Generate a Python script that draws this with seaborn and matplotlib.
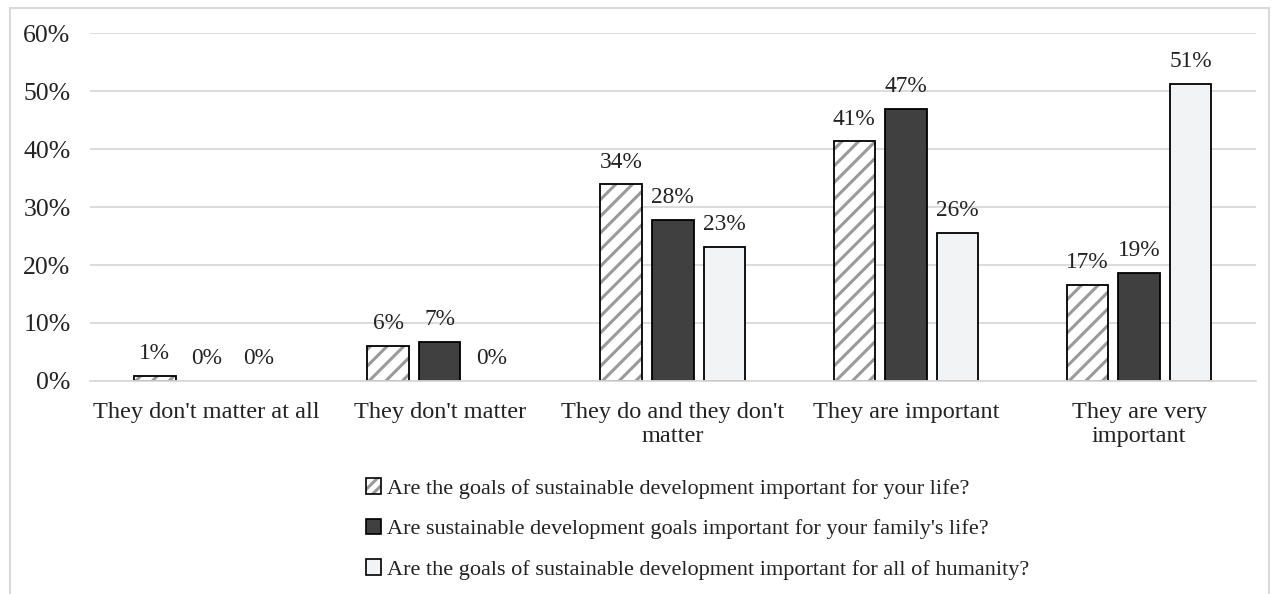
import matplotlib
matplotlib.use("Agg")
import matplotlib.pyplot as plt
import matplotlib.colors as mcolors
from matplotlib.patches import Rectangle, Patch
import seaborn as sns
import pandas as pd

categories = ["They don't matter at all", "They don't matter",
              "They do and they don't\nmatter", "They are important",
              "They are very\nimportant"]
series_names = ["Are the goals of sustainable development important for your life?",
                "Are sustainable development goals important for your family's life?",
                "Are the goals of sustainable development important for all of humanity?"]
life = [0.9, 6.1, 33.9, 41.3, 16.6]
family = [0.0, 6.7, 27.8, 46.9, 18.6]
humanity = [0.0, 0.0, 23.1, 25.5, 51.2]
yticks = [0, 10, 20, 30, 40, 50, 60]

sns.set_theme(style="white")
plt.rcParams['font.family'] = ['Liberation Serif', 'DejaVu Serif']
plt.rcParams['hatch.linewidth'] = 2.2

rows = []
for s, vals in zip(series_names, [life, family, humanity]):
    for c, v in zip(categories, vals):
        rows.append({"cat": c, "series": s, "val": v})
df = pd.DataFrame(rows)

fig = plt.figure(figsize=(12.8, 5.94), dpi=100)
ax = fig.add_axes([0.0703, 0.3586, 0.9107, 0.5858])

colors = ["#ffffff", "#404040", "#f2f3f5"]
sns.barplot(data=df, x="cat", y="val", hue="series", order=categories,
            hue_order=series_names, palette=colors, width=0.665, gap=0.2,
            edgecolor="black", linewidth=1.3, ax=ax, legend=False, errorbar=None)

txt = "#222222"
hatch_col = mcolors.to_rgba("#9a9a9a")
for i, cont in enumerate(ax.containers):
    for p in cont:
        if i == 0:
            p.set_hatch("//")
            p._hatch_color = hatch_col
        if p.get_height() == 0:
            p.set_visible(False)
    ax.bar_label(cont, labels=[f"{v.get_height():.0f}%" for v in cont],
                 padding=8.5, fontsize=16.8, color=txt)

ax.set_ylim(0, 60)
ax.set_xlim(-0.5, 4.5)
ax.set_yticks(yticks)
ax.set_yticklabels([f"{t}%" for t in yticks], fontsize=18.5, color=txt)
ax.tick_params(axis='y', pad=14, length=0)
ax.tick_params(axis='x', pad=15, length=0, labelsize=17.5, labelcolor=txt)
ax.set_xlabel("")
ax.set_ylabel("")
ax.yaxis.grid(True, color="#d9d9d9", linewidth=1.3)
ax.set_axisbelow(True)
for s in ["left", "right", "top"]:
    ax.spines[s].set_visible(False)
ax.spines["bottom"].set_color("#d9d9d9")
ax.spines["bottom"].set_linewidth(1.3)

h0 = Patch(facecolor="#ffffff", edgecolor="black", hatch="///", linewidth=1.2)
h0._hatch_color = hatch_col
handles = [h0,
           Patch(facecolor="#404040", edgecolor="black", linewidth=1.2),
           Patch(facecolor="#f2f3f5", edgecolor="black", linewidth=1.2)]
leg = fig.legend(handles, series_names, loc="upper center", bbox_to_anchor=(0.545, 0.21),
                 ncol=1, frameon=False, fontsize=16, handlelength=0.7, handleheight=0.7,
                 handletextpad=0.25, labelspacing=0.9, borderaxespad=0)
for t in leg.get_texts():
    t.set_color(txt)

fig.add_artist(Rectangle((10 / 1280, -0.01), 1269 / 1280 - 10 / 1280, 1 - 8 / 594 + 0.01,
                         transform=fig.transFigure, fill=False, edgecolor="#d9d9d9",
                         linewidth=1.5))

fig.savefig("out.png", dpi=100)
